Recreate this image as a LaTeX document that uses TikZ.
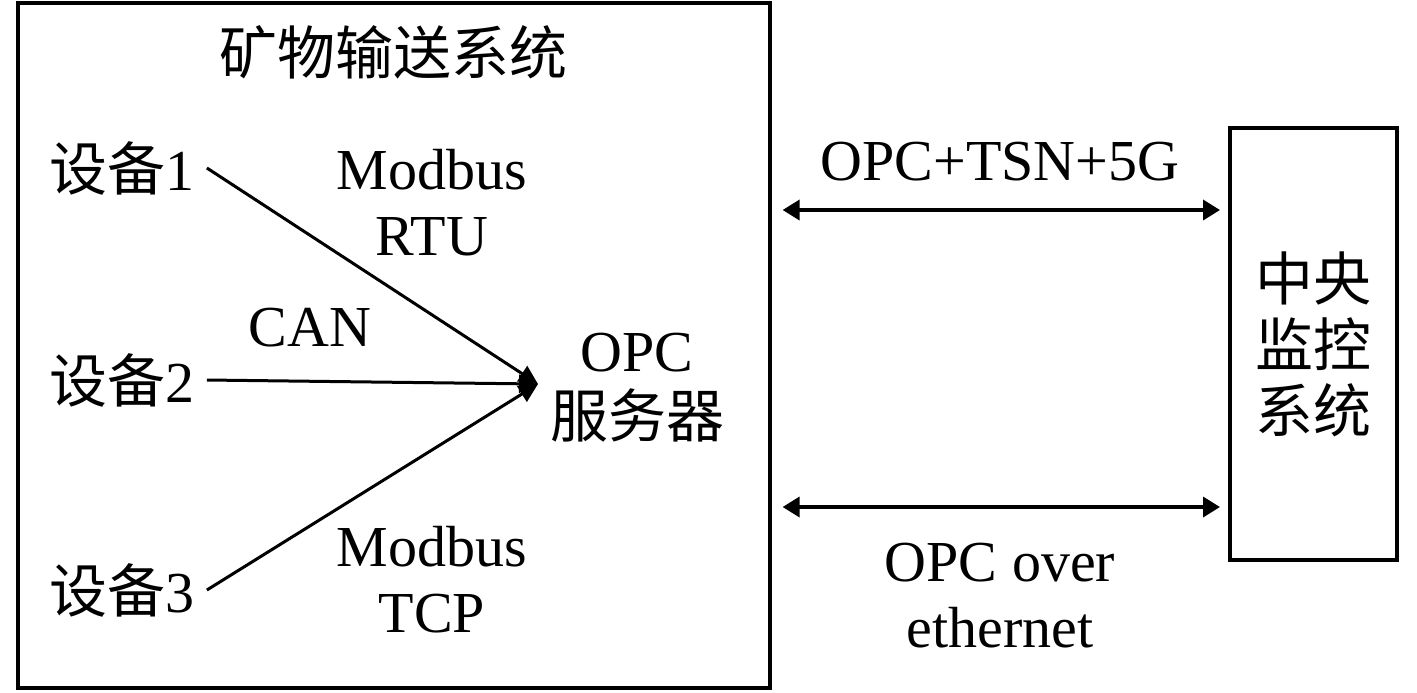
\documentclass[tikz,border=0pt]{standalone}
\usepackage{fontspec}
\setmainfont{Liberation Serif}
\newfontfamily\cjk{Noto Sans CJK SC}
\usetikzlibrary{arrows.meta}
\usetikzlibrary{positioning}

\begin{document}
\begin{tikzpicture}[x=0.5pt, y=-0.5pt,
      every node/.style={font=\fontsize{29}{33}\selectfont, align=center},
      box/.style={draw, line width=1.6pt, inner sep=0pt},
      device/.style={inner sep=6pt},
      link/.style={line width=1.5pt, -{Triangle[length=9.5pt, width=9pt]}},
      bus/.style={line width=1.8pt, {Triangle[length=8.5pt, width=10pt]}-{Triangle[length=8.5pt, width=10pt]},
                  shorten <=5.5pt, shorten >=4.2pt},
    ]
    \useasboundingbox (0,0) rectangle (1417,692);

    % mineral conveying system
    \node[box, minimum width=376pt, minimum height=342.5pt] (sys) at (394,345.5) {};
    \node (title) at (393,52) {{\cjk 矿物输送系统}};

    \foreach \i/\y in {1/168, 2/380, 3/590}
      \node[device] (d\i) at (122,\y) {{\cjk 设备}\i};

    \node (opc) at (637,388) {OPC\\{\cjk 服务器}};
    \coordinate (tip) at (538,384);

    \foreach \i in {1,2,3}
      \draw[link] (d\i.east) -- (tip);

    \node (rtu) at (432,203) {Modbus\\RTU};
    \node (can) at (310,328) {CAN};
    \node (tcp) at (432,580) {Modbus\\TCP};

    % central monitoring
    \node[box, minimum width=83.5pt, minimum height=216pt] (cms) at (1313.5,344)
      {{\cjk 中央}\\{\cjk 监控}\\{\cjk 系统}};

    \coordinate (ya) at (0,210);
    \coordinate (yb) at (0,507);
    \draw[bus] (sys.east |- ya) -- (cms.west |- ya);
    \draw[bus] (sys.east |- yb) -- (cms.west |- yb);

    \node (tsn) at (1000,162) {OPC+TSN+5G};
    \node (eth) at (1000,596) {OPC over\\ethernet};

\end{tikzpicture}
\end{document}
